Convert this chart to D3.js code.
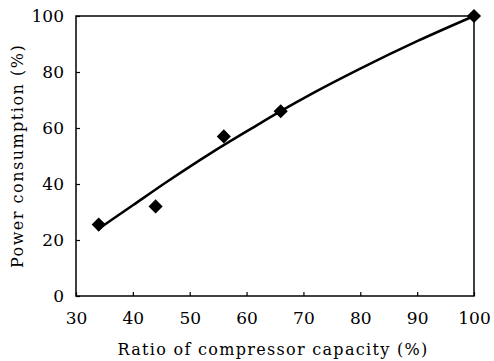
<!DOCTYPE html>
<html>
<head>
<meta charset="utf-8">
<script src="https://cdn.jsdelivr.net/npm/d3@7"></script>
<style>
  body { margin: 0; background: #fff; }
  text { font-family: "DejaVu Serif", serif; fill: #000; }
</style>
</head>
<body>
<div id="chart"></div>
<script>
var w = 494;
var h = 361;

// measured points
var capacity = [34, 44, 56, 66, 100];
var power = [25.5, 32, 57, 66, 100];

// fitted curve
var fitX = [34, 40, 46, 54, 62, 66, 72, 80, 90, 100];
var fitY = [24, 32.4, 40.8, 51.4, 61.2, 66, 72.8, 81.2, 91, 100];

var xTicks = [30, 40, 50, 60, 70, 80, 90, 100];
var yTicks = [0, 20, 40, 60, 80, 100];

var mLeft = 76, mRight = 474, mTop = 16, mBottom = 296;

var x = d3.scaleLinear().domain([30, 100]).range([mLeft, mRight]);
var y = d3.scaleLinear().domain([0, 100]).range([mBottom, mTop]);

var svg = d3.select('#chart')
	.append('svg')
	.attr('width', w)
	.attr('height', h);

// frame
svg.append('rect')
	.attr('x', mLeft)
	.attr('y', mTop)
	.attr('width', mRight - mLeft)
	.attr('height', mBottom - mTop)
	.attr('fill', 'none')
	.attr('stroke', '#000')
	.attr('stroke-width', 1.5);

var xAxis = svg.append('g')
	.attr('transform', 'translate(0,' + mBottom + ')')
	.call(d3.axisBottom(x).tickValues(xTicks).tickSizeInner(-4).tickSizeOuter(0).tickPadding(12));
xAxis.select('.domain').remove();

var yAxis = svg.append('g')
	.attr('transform', 'translate(' + mLeft + ',0)')
	.call(d3.axisLeft(y).tickValues(yTicks).tickSizeInner(-4).tickSizeOuter(0).tickPadding(12));
yAxis.select('.domain').remove();

svg.selectAll('.tick line').attr('stroke', '#000').attr('stroke-width', 1.2);
svg.selectAll('.tick text')
	.style('font-family', '"DejaVu Serif", serif')
	.style('font-size', '17px')
	.attr('fill', '#000');
xAxis.selectAll('.tick text').attr('y', 16).attr('dy', '0.71em');
yAxis.selectAll('.tick text').attr('x', -12);

// fitted line
var lineFn = d3.line()
	.x(function (d, i) { return x(fitX[i]); })
	.y(function (d, i) { return y(fitY[i]); })
	.curve(d3.curveMonotoneX);

svg.append('path')
	.attr('d', lineFn(fitX))
	.attr('fill', 'none')
	.attr('stroke', '#000')
	.attr('stroke-width', 2.5);

// diamonds
svg.selectAll('.pt')
	.data(capacity)
	.enter()
	.append('path')
	.attr('class', 'pt')
	.attr('d', d3.symbol().type(d3.symbolSquare).size(100))
	.attr('transform', function (d, i) {
		return 'translate(' + x(d) + ',' + y(power[i]) + ') rotate(45)';
	})
	.attr('fill', '#000');

svg.append('text')
	.attr('x', (mLeft + mRight) / 2 - 2)
	.attr('y', 355)
	.attr('text-anchor', 'middle')
	.style('font-size', '16px')
	.style('letter-spacing', '1.3px')
	.text('Ratio of compressor capacity (%)');

svg.append('text')
	.attr('transform', 'translate(23,' + ((mTop + mBottom) / 2) + ') rotate(-90)')
	.attr('text-anchor', 'middle')
	.style('font-size', '16px')
	.style('letter-spacing', '1.5px')
	.text('Power consumption (%)');
</script>
</body>
</html>
